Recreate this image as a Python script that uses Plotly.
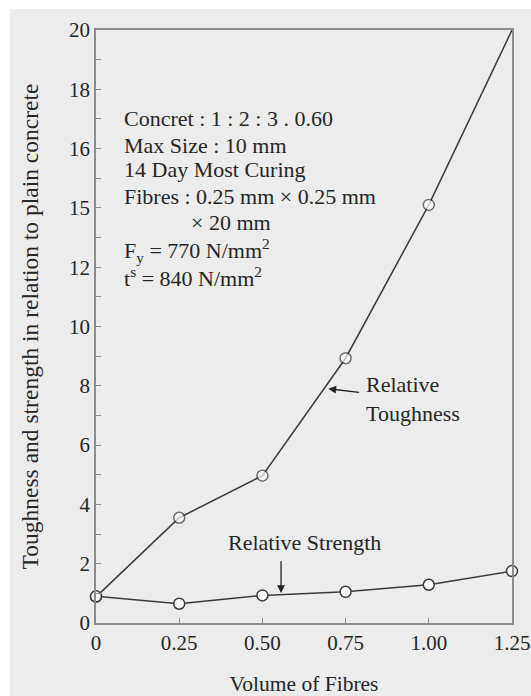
import plotly.graph_objects as go

volume = [0, 0.25, 0.50, 0.75, 1.00, 1.25]
toughness = [0.88, 3.55, 4.97, 8.93, 14.1, 20.0]
strength = [0.90, 0.65, 0.93, 1.05, 1.29, 1.75]

x_tickvals = [0, 0.25, 0.50, 0.75, 1.00, 1.25]
x_ticktext = ["0", "0.25", "0.50", "0.75", "1.00", "1.25"]
y_tickvals = [0, 2, 4, 6, 8, 10, 12, 14, 16, 18, 20]
y_ticktext = ["0", "2", "4", "6", "8", "10", "12", "15", "16", "18", "20"]

info_lines = [
    "Concret : 1 : 2 : 3 . 0.60",
    "Max Size : 10 mm",
    "14 Day Most Curing",
    "Fibres : 0.25 mm × 0.25 mm",
    "× 20 mm",
    "F<sub>y</sub> = 770 N/mm<sup>2</sup>",
    "t<sup>s</sup> = 840 N/mm<sup>2</sup>",
]
info_x = [0.078, 0.078, 0.078, 0.078, 0.28, 0.078, 0.078]
info_y = [17.03, 16.12, 15.28, 14.38, 13.52, 12.56, 11.68]

FONT = "Liberation Serif, Times New Roman, serif"
TXT = "#262626"
LINE = "#3a3a3a"
AX = "#8c8c8c"
BG = "#ececec"

fig = go.Figure()

fig.add_trace(go.Scatter(
    x=volume, y=toughness, mode="lines+markers",
    line=dict(color=LINE, width=1.5),
    marker=dict(size=[11, 11, 11, 11, 11, 0], color="white",
                line=dict(color=LINE, width=1.5)),
    cliponaxis=False, showlegend=False, hoverinfo="skip"))

fig.add_trace(go.Scatter(
    x=volume, y=strength, mode="lines+markers",
    line=dict(color=LINE, width=1.5),
    marker=dict(size=11, color="white", line=dict(color=LINE, width=1.5)),
    cliponaxis=False, showlegend=False, hoverinfo="skip"))

annotations = []
for txt, xx, yy in zip(info_lines, info_x, info_y):
    annotations.append(dict(x=xx, y=yy, xref="x", yref="y", text=txt,
                            showarrow=False, xanchor="left", yanchor="middle",
                            font=dict(family=FONT, size=22, color=TXT)))

annotations.append(dict(x=0.805, y=7.57, xref="x", yref="y",
                        text="Relative<br>Toughness", align="left",
                        showarrow=False, xanchor="left", yanchor="middle",
                        font=dict(family=FONT, size=22, color=TXT)))
annotations.append(dict(x=0.698, y=7.9, ax=0.795, ay=7.77, xref="x", yref="y",
                        axref="x", ayref="y", text="", showarrow=True,
                        arrowhead=2, arrowsize=1.2, arrowwidth=1.3,
                        arrowcolor="#222222"))

annotations.append(dict(x=0.626, y=2.73, xref="x", yref="y",
                        text="Relative Strength",
                        showarrow=False, xanchor="center", yanchor="middle",
                        font=dict(family=FONT, size=22, color=TXT)))
annotations.append(dict(x=0.556, y=1.01, ax=0.556, ay=2.13, xref="x", yref="y",
                        axref="x", ayref="y", text="", showarrow=True,
                        arrowhead=2, arrowsize=1.2, arrowwidth=1.3,
                        arrowcolor="#222222"))

fig.update_layout(
    width=531, height=696,
    margin=dict(l=96, r=19, t=30, b=73, autoexpand=False),
    paper_bgcolor="white", plot_bgcolor=BG,
    font=dict(family=FONT, size=21, color=TXT),
    annotations=annotations,
    shapes=[dict(type="rect", xref="paper", yref="paper",
                 x0=-86 / 416, x1=1.1, y0=-0.2, y1=(593 + 21) / 593,
                 fillcolor=BG, line=dict(width=0), layer="below")],
    xaxis=dict(range=[0, 1.25], tickvals=x_tickvals, ticktext=x_ticktext,
               ticks="inside", ticklen=5, tickcolor=AX, tickwidth=1.2,
               showline=True, linecolor=AX, linewidth=1.5, mirror=True,
               showgrid=False, zeroline=False, automargin=False,
               tickfont=dict(family=FONT, size=21, color=TXT),
               title=dict(text="Volume of Fibres", standoff=22,
                          font=dict(family=FONT, size=21.5, color=TXT))),
    yaxis=dict(range=[0, 20], tickvals=y_tickvals, ticktext=y_ticktext,
               ticks="inside", ticklen=5, tickcolor=AX, tickwidth=1.2,
               minor=dict(ticks="inside", ticklen=5, dtick=1, tickcolor=AX,
                          tickwidth=1.2, showgrid=False),
               showline=True, linecolor=AX, linewidth=1.5, mirror=True,
               showgrid=False, zeroline=False, automargin=False,
               tickfont=dict(family=FONT, size=21, color=TXT),
               title=dict(text="Toughness and strength in relation to plain concrete",
                          standoff=24,
                          font=dict(family=FONT, size=23.5, color=TXT))),
)

fig.write_html("out.html", config={"displayModeBar": False},
               post_script="document.body.style.margin='0';document.body.style.overflow='hidden';")
